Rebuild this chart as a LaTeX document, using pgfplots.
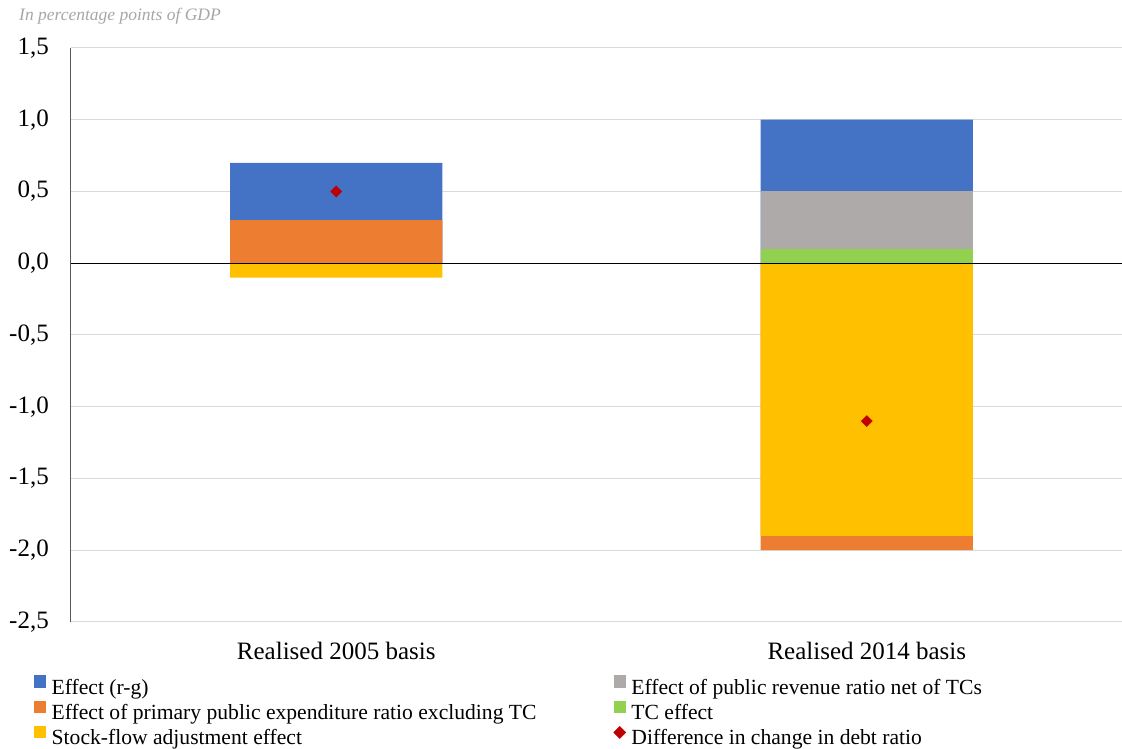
\documentclass[border=0pt]{standalone}
\usepackage{fontspec}
\setmainfont{Liberation Serif}
\usepackage{pgfplots}
\pgfplotsset{compat=1.18}
\definecolor{cblue}{HTML}{4472C4}
\definecolor{corange}{HTML}{ED7D31}
\definecolor{cgray}{HTML}{AEAAAA}
\definecolor{cgreen}{HTML}{92D050}
\definecolor{cyellow}{HTML}{FFC000}
\definecolor{cred}{HTML}{C00000}
\begin{document}
\begin{tikzpicture}
\path[use as bounding box] (0,0) rectangle (1122pt,749pt);
\node[anchor=base west, inner sep=0pt, text=black!35, font=\fontsize{17.5}{20}\selectfont\itshape] at (19pt,728pt) {In percentage points of GDP};
\begin{axis}[
  at={(71pt,127pt)}, anchor=south west,
  scale only axis, width=1051pt, height=574pt,
  xmin=-0.5, xmax=1.481, ymin=-2.5, ymax=1.5,
  xtick={0,1}, xticklabels={Realised 2005 basis, Realised 2014 basis},
  ytick={-2.5,-2,-1.5,-1,-0.5,0,0.5,1,1.5},
  /pgf/number format/use comma, /pgf/number format/fixed, /pgf/number format/fixed zerofill,
  /pgf/number format/precision=1, /pgf/number format/assume math mode=true,
  yticklabel style={font=\fontsize{25}{25}\selectfont, inner sep=0pt, anchor=east, xshift=-22pt},
  xticklabel style={font=\fontsize{25}{25}\selectfont, inner sep=0pt, anchor=north, yshift=-20pt},
  major tick length=0pt,
  separate axis lines,
  axis y line*=left, axis x line*=bottom,
  x axis line style={draw=none},
  y axis line style={draw=black!65, line width=1pt},
  ymajorgrids, major grid style={draw=black!15, line width=1pt},
  legend columns=2,
  legend cell align=left,
  legend style={draw=none, fill=none, at={(axis description cs:-0.0352,-0.0923)}, anchor=north west,
    font=\fontsize{21.6}{25}\selectfont, inner sep=0pt, row sep=1.4pt,
    nodes={inner sep=0pt, text height=15pt, text depth=5pt},
    /tikz/every odd column/.append style={column sep=5.5pt},
    /tikz/every even column/.append style={column sep=77pt}},
]
\addplot[ybar, bar width=0.4, bar shift=0pt, fill=cblue, draw=none,
  legend image code/.code={\fill[cblue] (0pt,1.5pt) rectangle (12pt,14pt);}]
  coordinates {(0,0.7) (1,1.0)};
\addlegendentry{Effect (r-g)}
\addplot[ybar, bar width=0.4, bar shift=0pt, fill=cgray, draw=none,
  legend image code/.code={\fill[cgray] (0pt,1.5pt) rectangle (12pt,14pt);}]
  coordinates {(1,0.5)};
\addlegendentry{Effect of public revenue ratio net of TCs}
\addplot[ybar, bar width=0.4, bar shift=0pt, fill=corange, draw=none,
  legend image code/.code={\fill[corange] (0pt,1.5pt) rectangle (12pt,14pt);}]
  coordinates {(0,0.3) (1,-2.0)};
\addlegendentry{Effect of primary public expenditure ratio excluding TC}
\addplot[ybar, bar width=0.4, bar shift=0pt, fill=cgreen, draw=none,
  legend image code/.code={\fill[cgreen] (0pt,1.5pt) rectangle (12pt,14pt);}]
  coordinates {(1,0.1)};
\addlegendentry{TC effect}
\addplot[ybar, bar width=0.4, bar shift=0pt, fill=cyellow, draw=none,
  legend image code/.code={\fill[cyellow] (0pt,1.5pt) rectangle (12pt,14pt);}]
  coordinates {(0,-0.1) (1,-1.9)};
\addlegendentry{Stock-flow adjustment effect}
\draw[black, line width=1.3pt] (axis cs:-0.5,0) -- (axis cs:1.481,0);
\addplot[only marks, color=cred, mark=square*, mark size=3.9pt, mark options={rotate=45, fill=cred, draw=none},
  legend image code/.code={\fill[cred] (0pt,7.5pt) -- (6pt,13.5pt) -- (12pt,7.5pt) -- (6pt,1.5pt) -- cycle;}]
  coordinates {(0,0.5) (1,-1.1)};
\addlegendentry{Difference in change in debt ratio}
\end{axis}
\end{tikzpicture}
\end{document}
